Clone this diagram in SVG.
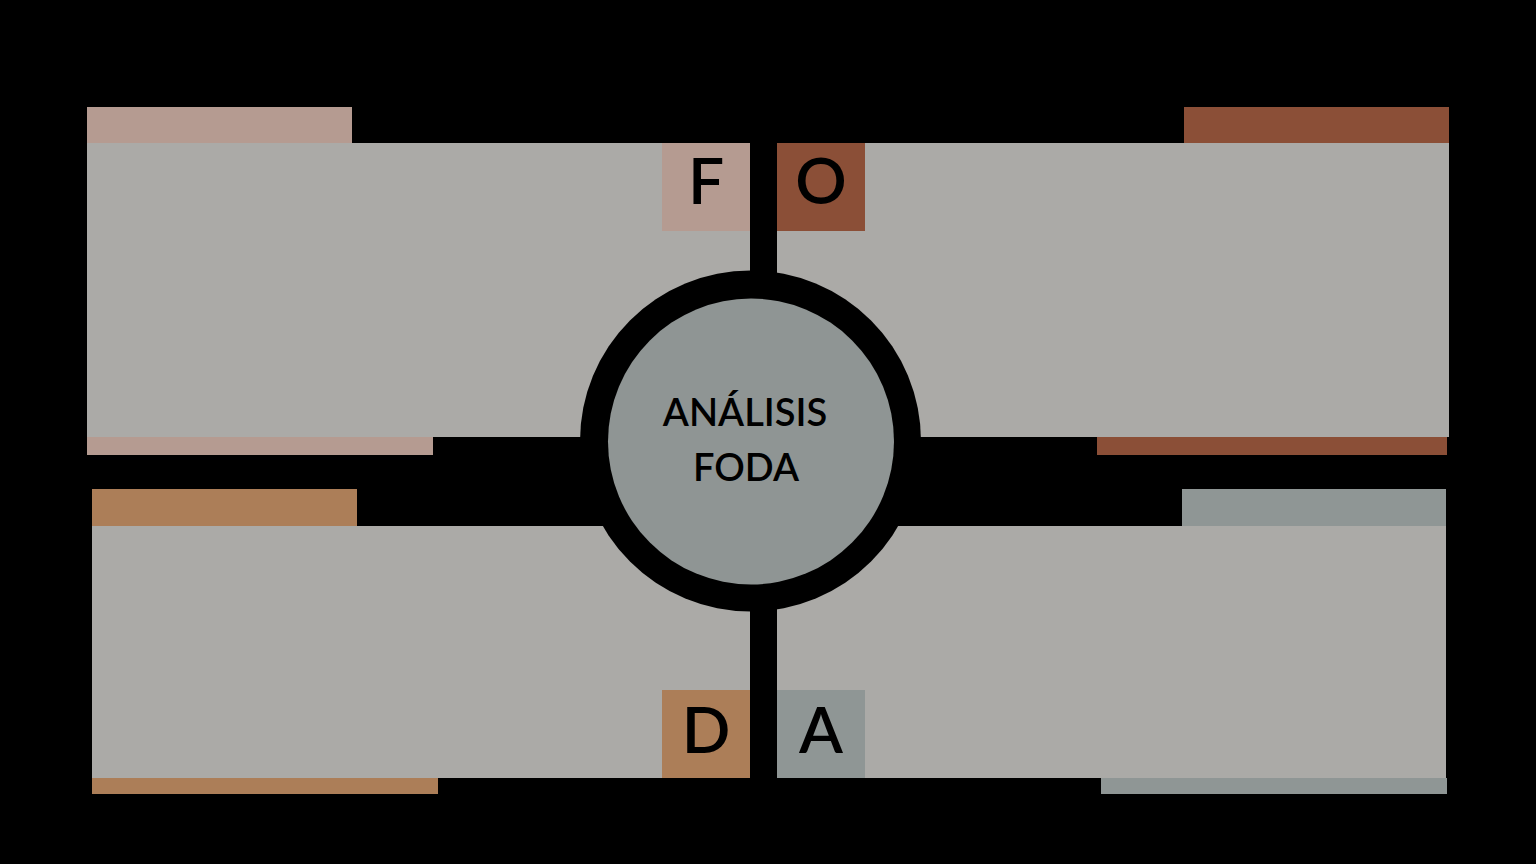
<svg xmlns="http://www.w3.org/2000/svg" width="1536" height="864" viewBox="0 0 1536 864">
<style>
.panel{fill:#abaaa7}
.pink{fill:#b59b91}
.rust{fill:#8b4f37}
.tan{fill:#ac7e58}
.slate{fill:#8f9695}
.letter{font-family:Lato,"Open Sans",sans-serif;font-size:64px;font-weight:600;fill:#000;text-anchor:middle}
.title{font-family:Lato,"Open Sans",sans-serif;font-size:38px;font-weight:600;fill:#000;text-anchor:middle}
</style>
<rect x="0" y="0" width="1536" height="864" fill="#000"/>
<g id="quadrant-F">
<rect class="pink" x="87" y="107" width="265" height="36"/>
<rect class="panel" x="87" y="143" width="663" height="294"/>
<rect class="pink" x="87" y="437" width="346" height="18"/>
<rect class="pink" x="662" y="143" width="88" height="88"/>
<text class="letter" x="706" y="204">F</text>
</g>
<g id="quadrant-O">
<rect class="rust" x="1184" y="107" width="265" height="36"/>
<rect class="panel" x="777" y="143" width="672" height="294"/>
<rect class="rust" x="1097" y="437" width="350" height="18"/>
<rect class="rust" x="777" y="143" width="88" height="88"/>
<text class="letter" x="821" y="204">O</text>
</g>
<g id="quadrant-D">
<rect class="tan" x="92" y="489" width="265" height="37"/>
<rect class="panel" x="92" y="526" width="658" height="252"/>
<rect class="tan" x="92" y="778" width="346" height="16"/>
<rect class="tan" x="662" y="690" width="88" height="88"/>
<text class="letter" x="706" y="753">D</text>
</g>
<g id="quadrant-A">
<rect class="slate" x="1182" y="489" width="264" height="37"/>
<rect class="panel" x="777" y="526" width="669" height="252"/>
<rect class="slate" x="1101" y="778" width="346" height="16"/>
<rect class="slate" x="777" y="690" width="88" height="88"/>
<text class="letter" x="821" y="753">A</text>
</g>
<g id="connectors">
<rect x="750" y="143" width="27" height="130" fill="#000"/>
<rect x="750" y="608" width="27" height="170" fill="#000"/>
</g>
<g id="center">
<circle cx="750.5" cy="441" r="170.5" fill="#000"/>
<circle cx="751" cy="441.5" r="143" fill="#8f9594"/>
<text class="title" x="745" y="426">ANÁLISIS</text>
<text class="title" x="746" y="481">FODA</text>
</g>
</svg>
